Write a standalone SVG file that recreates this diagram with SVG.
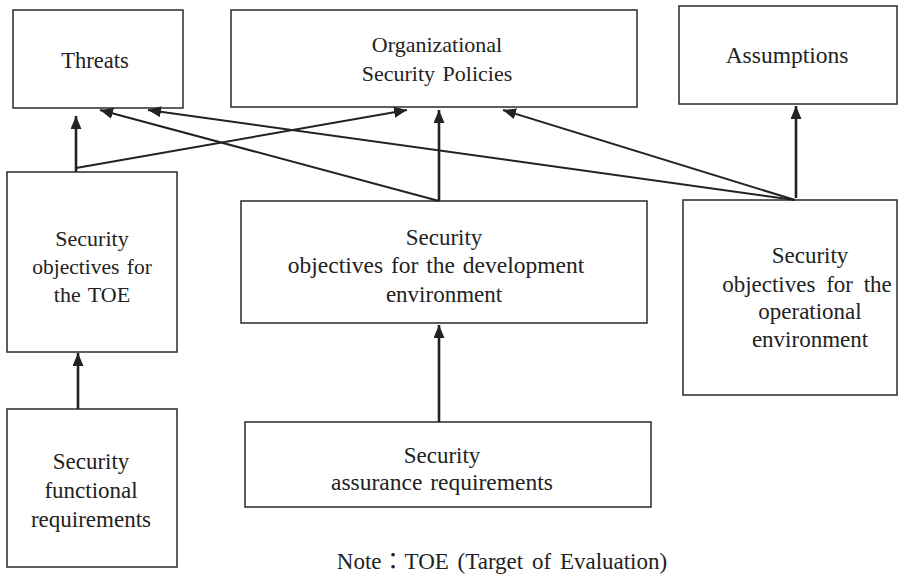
<svg xmlns="http://www.w3.org/2000/svg" width="903" height="576" viewBox="0 0 903 576">
<style>
rect.box{fill:#fff;stroke:#2a2a2a;stroke-width:1.5}
text{font-family:'Liberation Serif','Noto Sans CJK JP',serif;font-size:23px;fill:#222;text-anchor:middle;word-spacing:2px}
.c line{stroke:#222;fill:none;marker-end:url(#ah)}
.v{stroke-width:2.6}
.d{stroke-width:2}
</style>
<defs>
<marker id="ah" markerUnits="userSpaceOnUse" markerWidth="14" markerHeight="12" refX="13" refY="5.5" orient="auto">
<path d="M0,0 L13,5.5 L0,11 z" fill="#222"/>
</marker>
</defs>
<rect width="903" height="576" fill="#fff"/>
<g id="threats"><rect class="box" x="13" y="10" width="170" height="98"/><text x="95" y="68" style="font-size:22.5px">Threats</text></g>
<g id="osp"><rect class="box" x="231" y="10" width="406" height="97"/><text x="437" y="52" style="font-size:22px">Organizational</text><text x="437" y="81" style="font-size:22px">Security Policies</text></g>
<g id="assumptions"><rect class="box" x="679" y="6" width="218" height="98"/><text x="787" y="63" style="font-size:23.5px">Assumptions</text></g>
<g id="obj-toe"><rect class="box" x="7" y="172" width="170" height="180"/><text x="92" y="246" style="font-size:22px">Security</text><text x="92" y="274" style="font-size:21.5px">objectives for</text><text x="92" y="302" style="font-size:22px">the TOE</text></g>
<g id="obj-dev"><rect class="box" x="241" y="201" width="406" height="122"/><text x="444" y="245">Security</text><text x="436" y="273" style="font-size:23.5px">objectives for the development</text><text x="444" y="302">environment</text></g>
<g id="obj-op"><rect class="box" x="683" y="200" width="214" height="195"/><text x="810" y="263">Security</text><text x="807" y="292" style="word-spacing:5px">objectives for the</text><text x="810" y="319">operational</text><text x="810" y="347">environment</text></g>
<g id="sfr"><rect class="box" x="7" y="409" width="170" height="158"/><text x="91" y="469">Security</text><text x="91" y="498">functional</text><text x="91" y="527">requirements</text></g>
<g id="sar"><rect class="box" x="245" y="422" width="406" height="85"/><text x="442" y="463">Security</text><text x="442" y="490" style="font-size:23.5px">assurance requirements</text></g>
<g id="note"><text x="502" y="569" style="font-size:23px;word-spacing:3px">Note：TOE (Target of Evaluation)</text></g>
<g id="connectors" class="c">
<line class="v" x1="76" y1="172" x2="76" y2="116"/>
<line class="d" x1="76" y1="168" x2="407" y2="110"/>
<line class="d" x1="439" y1="201" x2="100" y2="110"/>
<line class="v" x1="439" y1="201" x2="439" y2="110"/>
<line class="d" x1="795" y1="200" x2="148" y2="110"/>
<line class="d" x1="795" y1="200" x2="503" y2="110"/>
<line class="v" x1="796" y1="198" x2="796" y2="106"/>
<line class="v" x1="439" y1="422" x2="439" y2="325"/>
<line class="v" x1="78" y1="409" x2="78" y2="353"/>
</g>
</svg>
